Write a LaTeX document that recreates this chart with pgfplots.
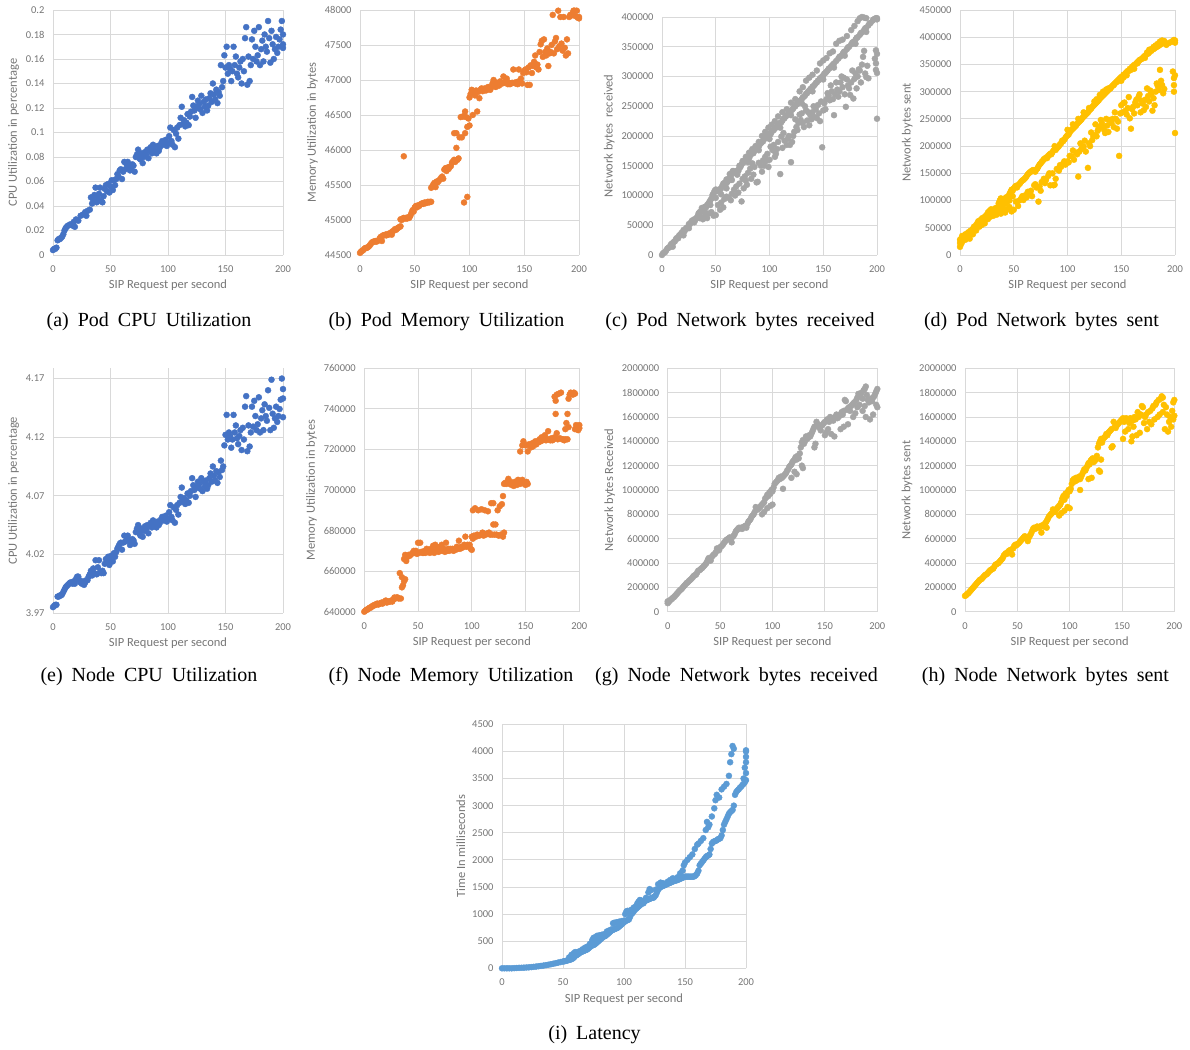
\documentclass[border=0pt]{standalone}
\usepackage{fontspec}
\setmainfont{Carlito}
\newfontfamily\capfont{Liberation Serif}
\newcommand\capsetup{\capfont\fontsize{20}{24}\selectfont\spaceskip=0.45em plus 0.1em\relax}
\usepackage{pgfplots}
\pgfplotsset{compat=1.18}
\definecolor{cblue}{HTML}{4472C4}
\definecolor{corange}{HTML}{ED7D31}
\definecolor{cgray}{HTML}{A5A5A5}
\definecolor{cgold}{HTML}{FFC000}
\definecolor{clblue}{HTML}{5B9BD5}
\definecolor{gridc}{HTML}{D9D9D9}
\definecolor{labc}{HTML}{767676}
\pgfplotsset{
  excel/.style={
    scale only axis, anchor=south west, clip=false,
    xmin=0, xmax=200, xtick={0,50,100,150,200},
    axis line style={draw=none},
    grid=major, major grid style={color=gridc, line width=0.9pt},
    major tick length=0pt,
    tick label style={font=\fontsize{10.5}{12}\selectfont, text=labc},
    xticklabel style={yshift=-7pt},
    yticklabel style={xshift=-5pt},
    label style={font=\fontsize{12.5}{14}\selectfont, text=labc},
    xlabel={SIP Request per second},
    xlabel style={yshift=-1pt},
    /pgf/number format/assume math mode=true,
    /pgf/number format/set thousands separator={},
    /pgf/number format/fixed,
    scaled ticks=false,
  },
  dots/.style={only marks, mark=*, color=#1, mark size=3pt, mark options={fill=#1, draw=#1}},
}
\tikzset{capnode/.style={font={\capsetup}, anchor=center}}
\begin{document}
\begin{tikzpicture}
\path[use as bounding box] (0,0) rectangle (1190pt,1049pt);
% (a)
\begin{axis}[excel, at={(53pt,794pt)}, width=230pt, height=245pt,
  ymin=0, ymax=0.2, ytick={0,0.02,0.04,0.06,0.08,0.1,0.12,0.14,0.16,0.18,0.2},
  ylabel={CPU Utilization in percentage}]
\addplot[dots=cblue] coordinates {
(0,0.004) (1,0.005) (2,0.005) (3,0.006) (4,0.012) (5,0.013) (6,0.013) (7,0.014) (8,0.015) (9,0.017) (10,0.020) (11,0.022) (12,0.023) (13,0.024) (15,0.025) (17,0.024) (18,0.027) (19,0.023) (20,0.029) (22,0.028) (24,0.032) (26,0.033) (28,0.035) (29,0.032) (30,0.036) (32,0.037) (33,0.047) (34,0.042) (35,0.045) (36,0.049) (37,0.055) (38,0.043) (39,0.047) (40,0.050) (41,0.055) (42,0.044) (43,0.043) (44,0.048) (45,0.054) (46,0.057) (47,0.052) (48,0.058) (49,0.051) (50,0.056) (51,0.061) (52,0.053) (53,0.061) (54,0.057) (55,0.062) (56,0.066) (57,0.064) (58,0.069) (59,0.070) (60,0.062) (61,0.068) (62,0.076) (63,0.070) (64,0.074) (65,0.076) (66,0.072) (67,0.069) (68,0.071) (69,0.074) (70,0.073) (71,0.068) (72,0.080) (73,0.082) (74,0.086) (75,0.079) (76,0.078) (77,0.083) (78,0.075) (79,0.080) (80,0.084) (81,0.082) (82,0.086) (83,0.079) (84,0.085) (85,0.088) (86,0.083) (87,0.090) (88,0.086) (89,0.084) (90,0.083) (91,0.089) (92,0.085) (93,0.088) (94,0.091) (95,0.093) (96,0.090) (97,0.092) (98,0.094) (99,0.089) (100,0.091) (101,0.097) (102,0.104) (103,0.093) (104,0.090) (105,0.102) (106,0.088) (107,0.099) (108,0.104) (109,0.095) (110,0.106) (111,0.112) (112,0.121) (113,0.107) (114,0.110) (115,0.105) (116,0.108) (117,0.115) (118,0.106) (119,0.113) (120,0.117) (121,0.129) (122,0.122) (123,0.118) (124,0.112) (125,0.120) (126,0.126) (127,0.123) (128,0.119) (129,0.130) (130,0.116) (131,0.125) (132,0.121) (133,0.127) (134,0.118) (135,0.122) (136,0.128) (137,0.132) (138,0.125) (139,0.140) (140,0.131) (141,0.127) (142,0.135) (143,0.124) (144,0.133) (145,0.130) (146,0.155) (147,0.137) (148,0.142) (149,0.163) (150,0.153) (151,0.170) (152,0.148) (153,0.155) (154,0.152) (155,0.142) (156,0.150) (157,0.170) (158,0.155) (159,0.162) (160,0.148) (161,0.145) (162,0.153) (163,0.158) (164,0.140) (165,0.160) (166,0.150) (167,0.177) (168,0.186) (169,0.139) (170,0.162) (171,0.142) (172,0.155) (173,0.176) (174,0.160) (175,0.183) (176,0.170) (177,0.158) (178,0.163) (179,0.186) (180,0.155) (181,0.168) (182,0.175) (183,0.158) (184,0.180) (185,0.170) (186,0.166) (187,0.191) (188,0.177) (189,0.157) (190,0.183) (191,0.172) (192,0.160) (193,0.168) (194,0.178) (195,0.165) (196,0.170) (197,0.176) (198,0.184) (199,0.191) (200,0.169) (200,0.180) (200,0.172)
};
\end{axis}
% (b)
\begin{axis}[excel, at={(360pt,794pt)}, width=219pt, height=245pt,
  ymin=44500, ymax=48000, ytick={44500,45000,45500,46000,46500,47000,47500,48000},
  ylabel={Memory Utilization in bytes}]
\addplot[dots=corange] coordinates {
(0,44530) (1,44550) (2,44560) (3,44570) (4,44590) (5,44600) (6,44600) (7,44610) (8,44620) (9,44640) (10,44660) (11,44680) (12,44690) (13,44690) (14,44700) (15,44690) (16,44700) (17,44710) (18,44740) (19,44760) (20,44700) (21,44780) (22,44780) (23,44790) (24,44780) (25,44800) (26,44790) (27,44800) (28,44820) (29,44790) (30,44840) (31,44850) (32,44870) (33,44860) (34,44880) (35,44890) (36,44900) (37,44910) (37,45010) (38,45000) (39,45020) (40,45910) (40,45030) (41,45020) (42,45030) (43,45020) (44,45040) (45,45030) (46,45060) (47,45100) (48,45140) (49,45120) (50,45180) (51,45200) (52,45180) (53,45210) (54,45200) (55,45220) (56,45230) (57,45240) (58,45230) (59,45250) (60,45240) (61,45250) (62,45260) (63,45250) (64,45260) (65,45260) (65,45460) (66,45480) (67,45510) (68,45530) (69,45470) (70,45550) (71,45540) (72,45560) (73,45580) (74,45600) (75,45620) (76,45590) (77,45720) (78,45740) (79,45700) (80,45750) (81,45730) (82,45760) (83,45770) (84,45820) (85,45840) (86,45860) (86,46240) (87,45830) (88,46240) (88,46030) (89,45860) (90,45880) (91,46180) (92,46470) (93,46180) (94,46480) (95,45250) (95,46480) (96,46550) (96,46240) (97,46470) (98,46330) (98,45330) (99,46450) (100,46750) (100,46350) (101,46800) (102,46860) (103,46500) (104,46840) (105,46780) (106,46850) (107,46550) (108,46830) (109,46740) (110,46860) (111,46880) (112,46840) (113,46870) (114,46880) (115,46850) (116,46860) (117,46900) (118,46880) (119,46860) (120,46900) (121,46950) (122,47000) (123,46930) (124,46900) (125,46960) (126,46950) (127,46920) (128,46980) (129,46960) (130,46950) (131,47050) (132,46960) (133,46980) (134,47020) (135,46940) (136,46960) (137,46940) (138,46950) (139,46960) (140,47150) (141,46960) (142,46950) (143,46970) (144,46940) (145,47150) (146,46990) (147,47020) (148,46950) (149,47100) (150,47130) (151,47150) (152,47110) (153,46930) (154,47180) (155,46930) (156,47210) (157,47100) (158,47200) (159,47260) (160,47350) (161,47180) (162,47220) (163,47150) (164,47400) (165,47510) (166,47560) (167,47330) (168,47580) (169,47400) (170,47350) (171,47450) (172,47200) (173,47380) (174,47400) (175,47500) (176,47930) (177,47380) (178,47550) (179,47600) (180,47440) (181,47990) (182,47480) (183,47900) (184,47520) (185,47420) (186,47900) (187,47460) (188,47350) (189,47580) (190,47380) (191,47900) (192,47930) (193,47920) (194,47950) (195,47990) (196,47990) (197,47910) (198,47990) (199,47890) (200,47900) (200,47880)
};
\end{axis}
% (c)
\begin{axis}[excel, at={(662pt,794pt)}, width=215pt, height=238pt,
  ymin=0, ymax=400000, ytick={0,50000,100000,150000,200000,250000,300000,350000,400000},
  ylabel={Network bytes \ received}]
\addplot[dots=cgray] coordinates {
(0,0) (1,3000) (2,4000) (3,5000) (4,8000) (5,11000) (6,12000) (7,13000) (8,17000) (9,19000) (10,20000) (11,22000) (12,23000) (13,27000) (14,29000) (15,28000) (16,33000) (17,34000) (18,37000) (19,38000) (20,42000) (21,40000) (22,44000) (23,46000) (24,46000) (25,45000) (26,52000) (27,55000) (28,58000) (29,56000) (30,60000) (31,59000) (32,62000) (33,65000) (34,70000) (35,72000) (36,73000) (37,79000) (38,78000) (39,80000) (40,81000) (41,80000) (42,84000) (43,86000) (44,89000) (45,92000) (46,95000) (47,101000) (48,104000) (49,108000) (50,110000) (51,107000) (52,109000) (53,110000) (54,109000) (55,112000) (56,116000) (57,120000) (58,121000) (59,119000) (60,121000) (61,123000) (62,126000) (63,129000) (64,132000) (65,138000) (66,141000) (67,140000) (68,138000) (69,140000) (70,142000) (71,141000) (72,146000) (73,148000) (74,152000) (75,155000) (76,156000) (77,158000) (78,160000) (79,161000) (80,164000) (81,162000) (82,167000) (83,170000) (84,172000) (85,171000) (86,175000) (87,178000) (88,180000) (89,179000) (90,182000) (91,186000) (92,188000) (93,190000) (94,191000) (95,195000) (96,196000) (97,199000) (98,200000) (99,202000) (100,204000) (101,203000) (102,207000) (103,209000) (104,210000) (105,213000) (106,214000) (107,217000) (108,218000) (109,221000) (110,222000) (111,223000) (112,226000) (113,229000) (114,230000) (115,233000) (116,234000) (117,236000) (118,239000) (119,240000) (120,243000) (121,244000) (122,246000) (123,249000) (124,250000) (125,253000) (126,254000) (127,257000) (128,259000) (129,260000) (130,262000) (131,265000) (132,266000) (133,268000) (134,271000) (135,272000) (136,275000) (137,276000) (138,279000) (139,280000) (140,283000) (141,284000) (142,286000) (143,289000) (144,290000) (145,293000) (146,294000) (147,297000) (148,298000) (149,300000) (150,302000) (151,305000) (152,306000) (153,308000) (154,310000) (155,313000) (156,314000) (157,316000) (158,318000) (159,320000) (160,322000) (162,326000) (164,330000) (165,333000) (166,334000) (168,338000) (169,341000) (170,342000) (172,346000) (173,349000) (174,350000) (176,354000) (177,357000) (178,358000) (180,362000) (181,365000) (182,366000) (184,370000) (185,373000) (186,374000) (188,378000) (189,381000) (190,382000) (192,386000) (193,389000) (194,390000) (196,394000) (197,396000) (198,397000) (199,398000) (200,398000) (200,396000)
(10,14000) (20,33000) (25,52000) (30,55000) (35,62000) (40,72000) (45,84000) (50,96000) (55,102000) (60,112000) (65,126000) (70,135000) (80,156000) (90,176000) (100,195000) (110,214000) (120,235000) (130,255000) (140,275000) (150,295000) (160,315000) (170,335000) (180,355000) (190,375000)
(60,127000) (63,136000) (66,141000) (69,140000) (72,150000) (75,158000) (78,165000) (81,172000) (84,178000) (87,183000) (90,190000) (93,200000) (96,207000) (99,214000) (102,219000) (105,225000) (108,233000) (112,240000) (116,245000) (120,256000) (124,262000) (128,275000) (131,282000) (134,293000) (137,298000) (140,303000) (144,310000) (147,322000) (150,327000) (153,331000) (156,339000) (159,342000) (162,355000) (165,360000) (168,362000) (172,368000) (176,378000) (179,385000) (182,393000) (184,398000) (186,400000) (188,399000) (190,398000)
(36,64000) (38,60000) (40,66000) (42,62000) (44,70000) (46,72000) (48,66000) (50,67000) (52,84000) (55,88000) (58,94000) (60,98000) (62,96000) (65,103000) (67,110000) (69,115000) (72,120000) (74,90000) (75,128000) (77,132000) (78,125000) (80,138000) (82,145000) (84,154000) (86,148000) (88,122000) (89,123000) (90,155000) (92,150000) (94,159000) (96,165000) (98,170000) (99,148000) (101,182000) (103,176000) (105,165000) (106,170000) (108,190000) (110,136000) (111,199000) (112,180000) (114,192000) (116,185000) (118,200000) (119,185000) (120,156000) (121,190000) (123,207000) (125,215000) (127,222000) (129,227000) (130,238000) (132,215000) (134,243000) (135,226000) (137,218000) (138,235000) (140,240000) (142,232000) (144,230000) (145,252000) (147,225000) (149,181000) (150,243000) (151,255000) (153,262000) (155,268000) (156,260000) (158,275000) (160,235000) (161,270000) (163,278000) (164,266000) (166,290000) (168,282000) (169,298000) (170,270000) (171,249000) (173,285000) (175,269000) (176,290000) (178,263000) (179,296000) (180,305000) (181,280000) (183,312000) (184,310000) (185,290000) (186,320000) (187,333000) (188,343000) (189,305000) (190,299000) (191,318000) (192,297000) (198,330000) (199,344000) (199,322000) (199,311000) (200,338000) (200,306000) (200,229000)
(100,160000) (104,185000) (107,178000) (113,205000) (117,195000) (122,200000) (124,228000) (126,210000) (128,236000) (131,222000) (133,250000) (136,240000) (139,228000) (141,250000) (143,245000) (146,238000) (148,258000) (152,245000) (154,272000) (157,285000) (159,262000) (162,290000) (165,275000) (167,300000) (172,295000) (174,280000) (177,310000) (182,300000) (93,140000) (95,150000) (97,158000) (85,135000) (83,128000) (79,118000) (76,112000) (71,105000) (68,100000) (64,92000) (57,80000) (54,76000)
};
\end{axis}
% (d)
\begin{axis}[excel, at={(960pt,794pt)}, width=215pt, height=245pt,
  ymin=0, ymax=450000, ytick={0,50000,100000,150000,200000,250000,300000,350000,400000,450000},
  ylabel={Network bytes sent}]
\addplot[dots=cgold] coordinates {
(0,15000) (0,22000) (0,28000) (1,20000) (1,30000) (2,24000) (3,32000) (4,30000) (5,38000) (6,36000) (7,40000) (8,42000) (9,30000) (10,45000) (11,44000) (12,48000) (13,52000) (14,50000) (15,55000) (16,58000) (17,62000) (18,58000) (19,64000) (20,66000) (21,68000) (22,63000) (23,70000) (24,72000) (25,74000) (26,78000) (27,80000) (28,82000) (29,84000) (30,80000) (31,78000) (32,84000) (33,86000) (34,82000) (35,88000) (36,95000) (37,100000) (38,104000) (39,98000) (40,102000) (41,100000) (42,104000) (43,106000) (44,103000) (45,108000) (46,112000) (47,116000) (48,120000) (49,118000) (50,122000) (51,125000) (52,127000) (53,124000) (54,128000) (55,130000) (56,132000) (57,135000) (58,137000) (59,138000) (60,140000) (61,142000) (62,145000) (63,148000) (64,150000) (65,152000) (66,153000) (67,155000) (68,156000) (69,155000) (70,153000) (71,157000) (72,159000) (73,163000) (74,166000) (75,168000) (76,171000) (77,173000) (78,176000) (79,177000) (80,179000) (81,178000) (82,182000) (83,184000) (84,186000) (85,185000) (86,189000) (87,192000) (88,200000) (89,193000) (90,196000) (91,198000) (92,200000) (93,203000) (94,205000) (95,210000) (96,209000) (97,212000) (98,215000) (99,218000) (100,220000) (101,221000) (102,225000) (103,228000) (104,230000) (105,232000) (106,234000) (107,236000) (108,238000) (109,241000) (110,243000) (111,245000) (112,247000) (113,249000) (114,252000) (115,254000) (116,256000) (117,258000) (118,260000) (119,262000) (120,265000) (121,267000) (122,269000) (123,272000) (124,274000) (125,276000) (126,278000) (127,280000) (128,282000) (129,284000) (130,287000) (131,289000) (132,291000) (133,293000) (134,295000) (135,297000) (136,299000) (137,301000) (138,303000) (139,305000) (140,307000) (141,309000) (142,311000) (143,313000) (144,315000) (145,317000) (146,319000) (147,321000) (148,323000) (149,325000) (150,327000) (152,331000) (154,334000) (155,336000) (156,338000) (158,342000) (160,345000) (161,347000) (162,349000) (164,352000) (165,354000) (166,356000) (168,359000) (170,362000) (171,364000) (172,366000) (174,369000) (175,370000) (176,372000) (178,375000) (180,378000) (181,380000) (182,381000) (184,383000) (185,385000) (186,386000) (188,388000) (189,390000) (190,391000) (192,386000) (194,389000) (196,391000) (198,393000) (199,395000) (200,394000) (200,390000)
(2,35000) (5,28000) (8,35000) (12,38000) (15,45000) (18,52000) (20,55000) (23,58000) (26,66000) (28,70000) (31,72000) (34,74000) (37,85000) (40,90000) (43,95000) (46,100000) (49,108000)
(100,230000) (105,240000) (110,250000) (115,262000) (120,270000) (125,282000) (127,286000) (130,294000) (133,300000) (136,304000) (138,306000) (140,306000) (143,312000) (146,318000) (149,321000) (150,320000) (152,326000) (155,330000) (157,338000) (159,340000) (162,342000) (165,352000) (167,358000) (169,360000) (172,362000) (174,372000) (176,377000) (178,378000) (180,382000) (182,385000) (184,388000) (186,392000) (188,394000) (190,393000)
(36,78000) (38,76000) (40,82000) (42,78000) (44,84000) (46,88000) (48,80000) (50,83000) (52,98000) (55,100000) (57,104000) (59,101000) (61,110000) (63,116000) (65,113000) (67,108000) (69,128000) (71,124000) (73,98000) (74,126000) (76,134000) (78,140000) (80,138000) (82,145000) (84,128000) (86,150000) (87,128000) (88,129000) (90,158000) (92,155000) (94,162000) (96,168000) (98,166000) (100,172000) (102,182000) (104,181000) (106,175000) (108,188000) (110,144000) (111,190000) (113,195000) (115,199000) (117,190000) (119,160000) (121,200000) (123,211000) (125,220000) (127,218000) (129,232000) (130,236000) (132,242000) (134,230000) (135,224000) (137,238000) (139,248000) (141,242000) (143,235000) (145,250000) (147,245000) (148,182000) (149,260000) (150,275000) (152,279000) (154,265000) (156,270000) (158,251000) (159,232000) (161,272000) (163,280000) (164,285000) (166,290000) (168,262000) (170,278000) (171,266000) (172,285000) (174,306000) (176,282000) (178,296000) (179,265000) (180,288000) (182,300000) (184,310000) (186,340000) (187,320000) (188,312000) (189,297000) (190,305000) (198,337000) (199,312000) (199,300000) (199,325000) (200,330000) (200,224000)
(54,90000) (58,108000) (62,106000) (66,118000) (70,130000) (75,118000) (79,132000) (83,150000) (89,140000) (93,165000) (97,172000) (101,170000) (105,192000) (109,185000) (112,205000) (116,210000) (120,205000) (122,225000) (124,218000) (126,240000) (128,228000) (131,248000) (133,235000) (136,250000) (138,226000) (142,250000) (144,262000) (146,232000) (151,262000) (153,280000) (155,258000) (157,290000) (160,268000) (162,260000) (165,275000) (167,295000) (169,283000) (173,272000) (175,292000) (177,302000) (181,275000) (183,315000) (185,303000)
};
\end{axis}
% (e)
\begin{axis}[excel, at={(53pt,436pt)}, width=230pt, height=245pt,
  ymin=3.97, ymax=4.179, ytick={3.97,4.02,4.07,4.12,4.17},
  ylabel={CPU Utilization in percentage}]
\addplot[dots=cblue] coordinates {
(0,3.975) (1,3.976) (2,3.977) (3,3.977) (4,3.984) (5,3.984) (6,3.985) (7,3.985) (8,3.986) (9,3.988) (10,3.990) (11,3.992) (12,3.993) (13,3.994) (14,3.995) (15,3.996) (16,3.996) (17,3.995) (18,3.997) (19,3.995) (20,3.999) (21,4.001) (22,4.001) (23,3.998) (24,3.996) (25,3.995) (26,3.997) (27,3.994) (28,3.996) (29,3.998) (30,3.998) (31,4.001) (32,4.003) (33,4.006) (34,4.002) (35,4.008) (36,4.004) (37,4.015) (38,4.003) (39,4.009) (40,4.015) (41,4.005) (42,4.004) (43,4.006) (44,4.004) (45,4.012) (46,4.016) (47,4.013) (48,4.018) (49,4.011) (50,4.015) (51,4.019) (52,4.014) (53,4.021) (54,4.018) (55,4.022) (56,4.025) (57,4.027) (58,4.029) (59,4.030) (60,4.024) (61,4.030) (62,4.036) (63,4.031) (64,4.035) (65,4.036) (66,4.032) (67,4.028) (68,4.031) (69,4.033) (70,4.032) (71,4.029) (72,4.039) (73,4.042) (74,4.045) (75,4.038) (76,4.036) (77,4.042) (78,4.035) (79,4.040) (80,4.044) (81,4.041) (82,4.045) (83,4.038) (84,4.044) (85,4.047) (86,4.043) (87,4.049) (88,4.046) (89,4.044) (90,4.043) (91,4.048) (92,4.045) (93,4.047) (94,4.050) (95,4.052) (96,4.049) (97,4.051) (98,4.053) (99,4.048) (100,4.050) (101,4.056) (102,4.062) (103,4.052) (104,4.049) (105,4.060) (106,4.047) (107,4.058) (108,4.062) (109,4.054) (110,4.064) (111,4.069) (112,4.077) (113,4.065) (114,4.068) (115,4.063) (116,4.066) (117,4.072) (118,4.064) (119,4.070) (120,4.074) (121,4.085) (122,4.079) (123,4.075) (124,4.069) (125,4.077) (126,4.082) (127,4.080) (128,4.076) (129,4.085) (130,4.074) (131,4.082) (132,4.078) (133,4.083) (134,4.076) (135,4.079) (136,4.085) (137,4.089) (138,4.082) (139,4.095) (140,4.087) (141,4.083) (142,4.091) (143,4.081) (144,4.090) (145,4.086) (146,4.100) (147,4.092) (148,4.095) (149,4.113) (150,4.122) (151,4.139) (152,4.118) (153,4.124) (154,4.121) (155,4.111) (156,4.118) (157,4.139) (158,4.124) (159,4.130) (160,4.119) (161,4.114) (162,4.121) (163,4.126) (164,4.109) (165,4.128) (166,4.118) (167,4.146) (168,4.155) (169,4.108) (170,4.130) (171,4.112) (172,4.124) (173,4.146) (174,4.129) (175,4.151) (176,4.138) (177,4.126) (178,4.131) (179,4.154) (180,4.124) (181,4.136) (182,4.143) (183,4.126) (184,4.148) (185,4.138) (186,4.134) (187,4.160) (188,4.145) (189,4.126) (190,4.169) (191,4.140) (192,4.128) (193,4.136) (194,4.146) (195,4.133) (196,4.138) (197,4.144) (198,4.152) (199,4.170) (200,4.137) (200,4.161) (200,4.153)
};
\end{axis}
% (f)
\begin{axis}[excel, at={(364.3pt,437.3pt)}, width=215pt, height=243.4pt,
  ymin=640000, ymax=760000, ytick={640000,660000,680000,700000,720000,740000,760000},
  ylabel={Memory Utilization in bytes}]
\addplot[dots=corange] coordinates {
(0,640000) (1,640500) (2,641000) (3,641000) (4,641500) (5,642000) (6,642000) (7,642500) (8,643000) (9,643000) (10,643500) (11,643500) (12,644000) (13,643500) (14,644000) (15,644000) (16,644500) (17,644000) (18,644500) (19,645000) (20,645500) (21,644500) (22,645000) (23,645000) (24,645000) (25,645500) (26,645000) (27,646000) (28,647000) (29,646500) (30,647000) (31,647000) (32,646500) (33,659000) (34,646500) (35,652000) (35,657000) (36,653000) (37,655000) (37,666000) (38,668000) (38,656000) (39,665000) (39,667000) (40,667000) (41,668000) (42,667500) (43,668000) (44,668500) (45,669000) (46,670000) (47,669000) (48,670000) (49,668500) (50,674000) (51,669000) (52,674000) (53,669500) (54,669000) (55,669000) (56,670000) (57,669000) (58,671000) (59,669500) (60,670000) (61,669000) (62,671000) (63,670000) (64,672500) (65,669000) (66,673000) (67,670000) (68,671000) (69,669500) (70,672000) (71,670000) (72,673000) (73,670000) (74,671000) (75,669500) (76,674000) (77,670000) (78,671000) (79,670000) (80,671000) (81,670500) (82,671000) (83,670000) (84,671000) (85,670500) (86,672000) (87,671000) (88,675000) (89,671000) (90,672000) (91,671500) (92,672000) (93,673000) (94,677000) (95,672000) (96,673000) (97,672500) (98,673000) (99,671000) (100,670500) (100,677000) (101,690000) (101,676000) (102,677500) (103,691000) (104,677000) (105,678000) (106,690000) (107,677500) (108,678000) (109,690500) (110,679000) (111,677500) (112,690000) (113,678000) (114,678500) (115,689500) (116,679000) (117,678000) (118,693500) (119,678000) (120,693500) (120,683000) (121,678000) (122,683000) (123,678000) (124,690000) (125,677500) (126,692000) (127,678000) (128,693000) (129,697000) (129,677000) (130,703000) (130,679000) (131,703500) (132,703000) (133,704000) (134,705500) (135,703000) (136,704000) (137,702500) (138,703000) (139,702000) (140,704000) (141,703000) (142,702500) (143,705000) (144,704500) (145,719000) (145,703000) (146,703500) (147,722000) (147,705000) (148,724000) (149,703000) (150,702500) (150,722000) (151,704000) (152,719000) (152,703000) (153,722500) (154,722000) (155,721000) (156,723000) (157,721500) (158,723000) (159,724000) (160,722500) (161,724000) (162,723500) (163,725000) (164,724000) (165,726000) (166,724500) (167,725000) (168,727000) (169,724500) (170,725000) (171,729000) (172,725000) (173,724500) (174,725500) (175,724500) (176,725000) (177,746000) (177,726000) (178,737500) (178,744000) (179,747000) (179,728000) (180,725000) (181,747500) (182,725500) (183,748000) (184,725000) (185,725000) (186,724500) (187,730000) (187,725000) (188,733000) (189,737500) (189,725000) (190,745000) (190,731000) (191,747000) (192,748000) (193,747500) (194,747000) (195,748000) (196,747500) (196,730000) (197,732000) (198,731000) (199,729500) (200,730500) (200,732000)
};
\end{axis}
% (g)
\begin{axis}[excel, at={(667.7pt,437.3pt)}, width=209.6pt, height=243.4pt,
  ymin=0, ymax=2000000, ytick={0,200000,400000,600000,800000,1000000,1200000,1400000,1600000,1800000,2000000},
  ylabel={Network bytes Received}]
\addplot[dots=cgray] coordinates {
(0,70000) (0,85000) (1,80000) (2,90000) (3,100000) (4,105000) (5,115000) (6,120000) (7,130000) (8,140000) (9,150000) (10,160000) (11,170000) (12,178000) (13,185000) (14,195000) (15,205000) (16,215000) (17,225000) (18,235000) (19,240000) (20,250000) (21,258000) (22,265000) (23,275000) (24,285000) (25,295000) (26,300000) (27,305000) (28,320000) (29,335000) (30,340000) (31,345000) (32,355000) (33,360000) (34,370000) (35,380000) (36,390000) (37,400000) (38,420000) (39,440000) (40,430000) (41,420000) (42,450000) (43,460000) (44,470000) (45,475000) (46,490000) (47,520000) (48,510000) (49,505000) (50,530000) (51,535000) (52,545000) (53,555000) (54,570000) (55,580000) (56,590000) (57,595000) (58,600000) (59,610000) (60,600000) (61,570000) (62,615000) (63,625000) (64,640000) (65,660000) (66,670000) (67,680000) (68,690000) (69,685000) (70,690000) (71,680000) (72,695000) (73,700000) (74,705000) (75,690000) (76,720000) (77,740000) (78,750000) (79,760000) (80,780000) (81,790000) (82,800000) (83,820000) (84,860000) (85,850000) (86,840000) (87,850000) (88,860000) (89,870000) (90,800000) (90,880000) (91,890000) (92,820000) (92,900000) (93,930000) (94,940000) (95,850000) (95,960000) (96,950000) (97,980000) (98,870000) (98,970000) (99,1000000) (100,880000) (100,990000) (101,1020000) (102,1050000) (103,1060000) (104,1070000) (105,1080000) (106,1100000) (107,1090000) (108,1110000) (109,1100000) (110,1010000) (110,1110000) (111,1120000) (112,1130000) (113,1140000) (114,1160000) (115,1170000) (116,1190000) (117,1200000) (118,1100000) (118,1210000) (119,1230000) (120,1240000) (121,1150000) (121,1250000) (122,1270000) (123,1130000) (123,1250000) (124,1280000) (125,1260000) (126,1300000) (127,1350000) (128,1200000) (128,1390000) (129,1180000) (129,1410000) (130,1380000) (131,1400000) (132,1440000) (133,1420000) (134,1430000) (135,1450000) (136,1440000) (137,1460000) (138,1480000) (139,1500000) (140,1350000) (140,1520000) (141,1380000) (142,1560000) (143,1540000) (144,1530000) (145,1510000) (146,1490000) (147,1530000) (148,1540000) (149,1550000) (150,1450000) (150,1560000) (151,1470000) (152,1580000) (153,1500000) (154,1560000) (155,1600000) (156,1460000) (157,1590000) (158,1570000) (159,1440000) (160,1600000) (161,1620000) (162,1590000) (163,1600000) (164,1610000) (165,1500000) (165,1620000) (166,1640000) (167,1620000) (168,1520000) (168,1650000) (169,1740000) (170,1730000) (171,1660000) (172,1540000) (172,1670000) (173,1680000) (174,1650000) (175,1690000) (176,1700000) (177,1600000) (177,1710000) (178,1720000) (179,1630000) (180,1740000) (181,1680000) (181,1760000) (182,1790000) (183,1700000) (184,1770000) (185,1800000) (186,1750000) (186,1650000) (187,1820000) (188,1830000) (188,1690000) (189,1850000) (189,1600000) (190,1780000) (191,1740000) (192,1720000) (193,1580000) (194,1750000) (195,1730000) (196,1620000) (196,1760000) (197,1770000) (198,1790000) (199,1810000) (199,1700000) (200,1830000) (200,1680000)
};
\end{axis}
% (h)
\begin{axis}[excel, at={(965pt,437.3pt)}, width=209.3pt, height=243.4pt,
  ymin=0, ymax=2000000, ytick={0,200000,400000,600000,800000,1000000,1200000,1400000,1600000,1800000,2000000},
  ylabel={Network bytes sent}]
\addplot[dots=cgold] coordinates {
(0,130000) (1,135000) (2,145000) (3,150000) (4,160000) (5,170000) (6,180000) (7,190000) (8,200000) (9,210000) (10,220000) (11,230000) (12,240000) (13,250000) (14,260000) (15,265000) (16,270000) (17,280000) (18,290000) (19,300000) (20,305000) (21,310000) (22,320000) (23,330000) (24,340000) (25,345000) (26,350000) (27,355000) (28,370000) (29,385000) (30,390000) (31,395000) (32,400000) (33,410000) (34,420000) (35,430000) (36,440000) (37,460000) (38,470000) (39,480000) (40,475000) (41,490000) (42,500000) (43,505000) (44,510000) (45,470000) (46,520000) (47,540000) (48,550000) (49,545000) (50,555000) (51,560000) (52,570000) (53,580000) (54,590000) (55,600000) (56,610000) (57,620000) (58,615000) (59,600000) (60,580000) (61,610000) (62,625000) (63,640000) (64,660000) (65,680000) (66,690000) (67,680000) (68,690000) (69,700000) (70,695000) (71,690000) (72,700000) (73,650000) (73,705000) (74,710000) (75,700000) (76,720000) (77,730000) (78,690000) (78,745000) (79,760000) (80,780000) (81,790000) (82,800000) (83,810000) (84,840000) (85,830000) (86,820000) (87,840000) (88,850000) (89,860000) (90,790000) (90,870000) (91,880000) (92,810000) (92,900000) (93,930000) (94,950000) (95,830000) (95,920000) (96,970000) (97,950000) (98,860000) (98,980000) (99,1000000) (100,850000) (100,990000) (101,1010000) (102,1050000) (103,1080000) (104,1090000) (105,1070000) (106,1100000) (107,1080000) (108,1100000) (109,1110000) (110,1000000) (110,1090000) (111,1110000) (112,1130000) (113,1150000) (114,1170000) (115,1160000) (116,1180000) (117,1200000) (118,1090000) (118,1220000) (119,1210000) (120,1240000) (121,1100000) (121,1250000) (122,1260000) (123,1230000) (124,1240000) (125,1250000) (126,1280000) (127,1350000) (128,1160000) (128,1380000) (129,1150000) (129,1400000) (130,1250000) (130,1420000) (131,1390000) (132,1420000) (133,1430000) (134,1440000) (135,1460000) (136,1450000) (137,1470000) (138,1480000) (139,1490000) (140,1350000) (140,1500000) (141,1360000) (142,1560000) (143,1520000) (144,1510000) (145,1530000) (146,1540000) (147,1550000) (148,1560000) (149,1570000) (150,1580000) (151,1420000) (151,1590000) (152,1560000) (153,1480000) (154,1590000) (155,1580000) (156,1500000) (157,1550000) (158,1590000) (159,1400000) (160,1440000) (160,1570000) (161,1520000) (162,1600000) (163,1580000) (164,1450000) (165,1640000) (166,1600000) (167,1470000) (168,1620000) (169,1690000) (170,1680000) (171,1550000) (172,1600000) (173,1620000) (174,1500000) (175,1640000) (176,1560000) (177,1650000) (178,1540000) (179,1670000) (180,1690000) (181,1580000) (182,1700000) (183,1720000) (184,1600000) (185,1740000) (186,1620000) (187,1750000) (188,1770000) (189,1760000) (189,1640000) (190,1700000) (191,1500000) (192,1680000) (193,1620000) (194,1480000) (195,1560000) (196,1600000) (197,1520000) (198,1650000) (199,1580000) (199,1720000) (200,1740000) (200,1610000)
};
\end{axis}
% (i)
\begin{axis}[excel, at={(502pt,80.7pt)}, width=244pt, height=244pt,
  ymin=0, ymax=4500, ytick={0,500,1000,1500,2000,2500,3000,3500,4000,4500},
  ylabel={Time In milliseconds}]
\addplot[dots=clblue] coordinates {
(0,0) (2,0) (4,0) (6,0) (8,0) (10,3) (12,5) (14,8) (16,10) (18,12) (20,15) (22,18) (24,22) (26,27) (28,32) (30,38) (32,44) (34,50) (36,58) (38,66) (40,75) (42,84) (44,94) (46,105) (48,115) (50,125) (51,130) (52,135) (53,140) (54,148) (55,155) (56,160) (57,170) (58,180) (59,200) (60,230) (61,240) (62,255) (63,270) (64,290) (65,300) (66,310) (67,320) (68,330) (69,340) (70,350) (71,370) (72,390) (73,410) (74,420) (75,430) (76,440) (77,460) (78,480) (79,500) (80,520) (81,540) (82,560) (83,580) (84,590) (85,600) (86,620) (87,640) (88,660) (89,680) (90,700) (91,710) (92,720) (93,730) (94,740) (95,750) (96,770) (97,790) (98,810) (99,830) (100,850) (101,870) (102,880) (103,890) (104,900) (105,950) (106,1000) (107,1020) (108,1050) (109,1080) (110,1100) (111,1120) (112,1140) (113,1160) (114,1180) (115,1200) (116,1220) (117,1240) (118,1250) (119,1260) (120,1270) (121,1280) (122,1290) (123,1300) (124,1310) (125,1320) (126,1350) (127,1400) (128,1450) (129,1480) (130,1500) (131,1510) (132,1520) (133,1530) (134,1540) (135,1550) (136,1560) (137,1570) (138,1580) (139,1590) (140,1600) (141,1610) (142,1620) (143,1620) (144,1630) (145,1640) (146,1650) (147,1660) (148,1670) (149,1680) (150,1690) (151,1690) (152,1690) (153,1690) (154,1690) (155,1690) (156,1690) (157,1690) (158,1700) (159,1720) (160,1750) (161,1800) (162,1900) (163,1930) (164,1960) (165,1990) (166,2020) (167,2050) (168,2070) (169,2080) (170,2100) (171,2200) (172,2300) (173,2330) (174,2340) (175,2350) (176,2360) (177,2380) (178,2390) (179,2400) (180,2450) (181,2550) (182,2650) (183,2700) (184,2750) (185,2800) (186,2850) (187,2880) (188,2900) (189,2920) (190,3000) (191,3200) (192,3250) (193,3280) (194,3300) (195,3330) (196,3350) (197,3380) (198,3400) (199,3430) (200,3470)
(55,200) (57,250) (59,280) (60,300) (62,300) (64,320) (66,350) (68,380) (70,400) (72,450) (74,520) (75,560) (76,570) (78,600) (80,610) (82,620) (84,630) (86,680) (88,700) (90,720) (91,830) (92,840) (94,850) (96,860) (98,870) (100,880) (101,1000) (102,1050) (103,1060) (104,1040) (106,1080) (108,1120) (110,1150) (111,1200) (112,1230) (113,1260) (114,1250) (116,1200) (118,1300) (120,1400) (121,1460) (122,1440) (124,1300) (126,1450) (128,1550) (130,1580) (132,1570) (134,1560) (136,1600) (138,1630) (140,1660) (142,1650) (144,1680) (146,1750) (148,1800) (149,1900) (150,1950) (152,2000) (154,2050) (156,2100) (158,2200) (160,2280) (161,2300) (163,2350) (165,2400) (167,2550) (168,2700) (169,2600) (170,2650) (172,2800) (174,2950) (175,3100) (176,3200) (178,3150) (180,3300) (182,3350) (184,3400) (186,3550) (187,3800) (188,3950) (189,4100) (190,4050) (198,3500) (199,3700) (200,3800) (200,3900) (200,4000) (200,4020) (200,3600)
};
\end{axis}
\node[capnode] at (149pt,727pt) {(a) Pod CPU Utilization};
\node[capnode] at (446.5pt,727pt) {(b) Pod Memory Utilization};
\node[capnode] at (740pt,727pt) {(c) Pod Network bytes received};
\node[capnode] at (1041.5pt,727pt) {(d) Pod Network bytes sent};
\node[capnode] at (149pt,372pt) {(e) Node CPU Utilization};
\node[capnode] at (451pt,372pt) {(f) Node Memory Utilization};
\node[capnode] at (736.5pt,372pt) {(g) Node Network bytes received};
\node[capnode] at (1045.5pt,372pt) {(h) Node Network bytes sent};
\node[capnode] at (594.5pt,14pt) {(i) Latency};
\end{tikzpicture}
\end{document}
